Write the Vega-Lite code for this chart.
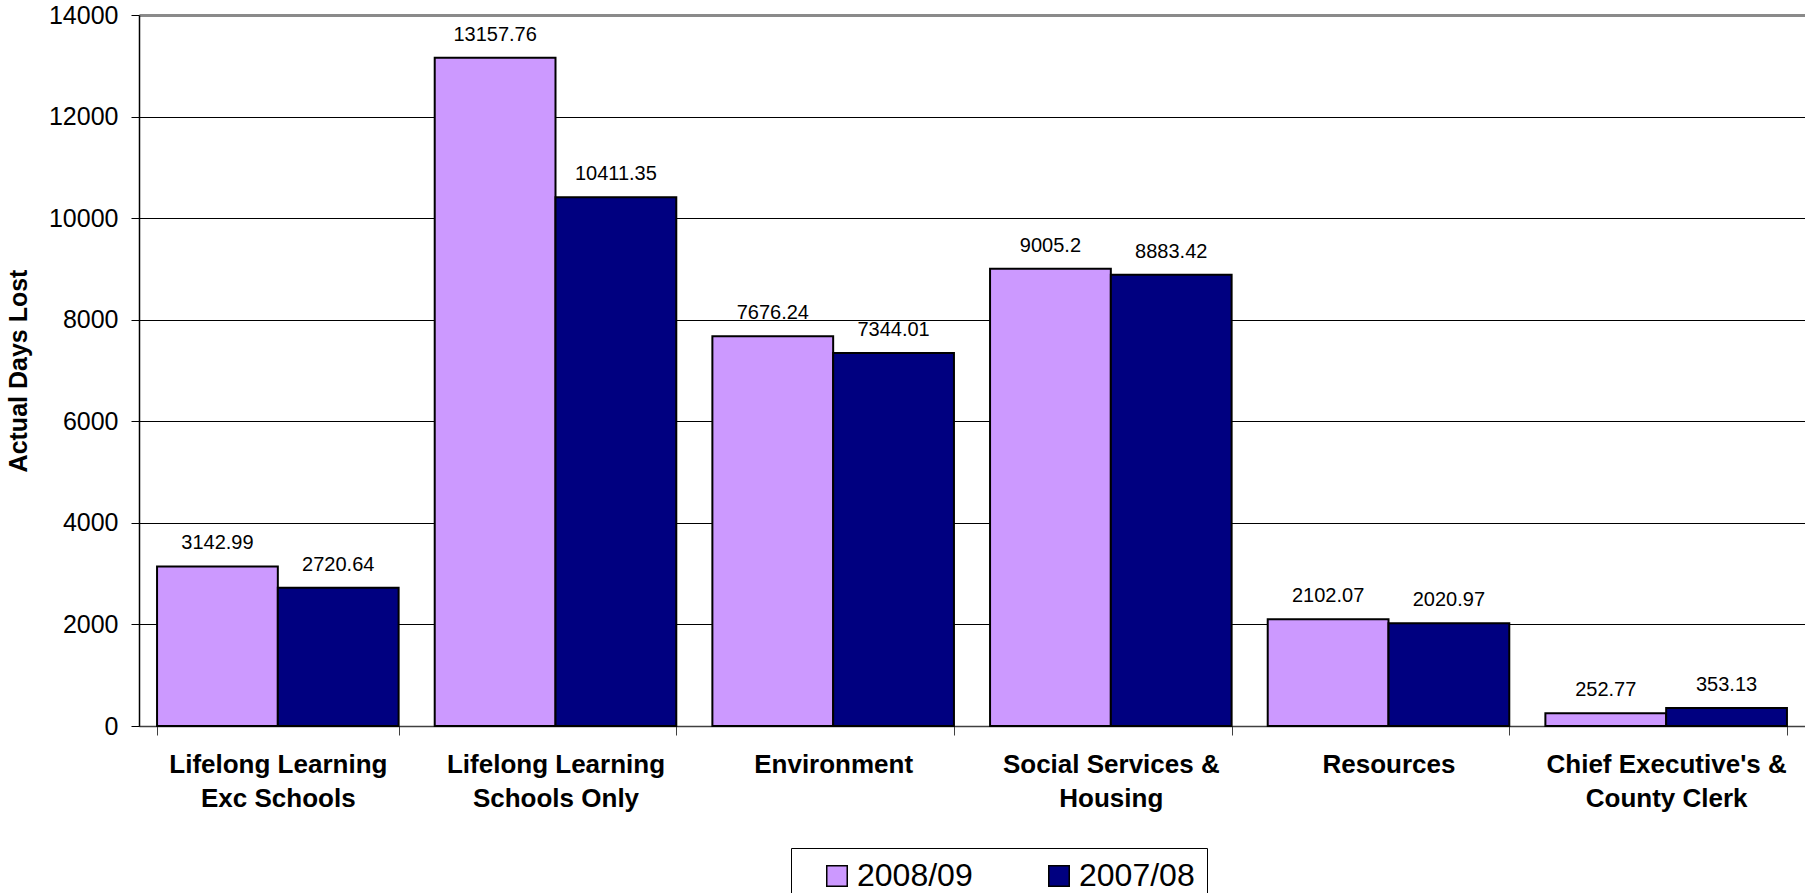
{
  "$schema": "https://vega.github.io/schema/vega-lite/v6.json",
  "width": 1666,
  "height": 711,
  "autosize": {"type": "none"},
  "padding": {"left": 139, "top": 15, "right": 0, "bottom": 167},
  "background": "white",
  "config": {"font": "Liberation Sans", "view": {"stroke": null}},
  "data": {
    "values": [
      {"dept": "Lifelong Learning|Exc Schools", "year": "2008/09", "days": 3142.99},
      {"dept": "Lifelong Learning|Exc Schools", "year": "2007/08", "days": 2720.64},
      {"dept": "Lifelong Learning|Schools Only", "year": "2008/09", "days": 13157.76},
      {"dept": "Lifelong Learning|Schools Only", "year": "2007/08", "days": 10411.35},
      {"dept": "Environment", "year": "2008/09", "days": 7676.24},
      {"dept": "Environment", "year": "2007/08", "days": 7344.01},
      {"dept": "Social Services &|Housing", "year": "2008/09", "days": 9005.2},
      {"dept": "Social Services &|Housing", "year": "2007/08", "days": 8883.42},
      {"dept": "Resources", "year": "2008/09", "days": 2102.07},
      {"dept": "Resources", "year": "2007/08", "days": 2020.97},
      {"dept": "Chief Executive's &|County Clerk", "year": "2008/09", "days": 252.77},
      {"dept": "Chief Executive's &|County Clerk", "year": "2007/08", "days": 353.13}
    ]
  },
  "encoding": {
    "x": {
      "field": "dept",
      "type": "nominal",
      "sort": null,
      "scale": {"paddingInner": 0.13, "paddingOuter": 0.065},
      "axis": {
        "title": null,
        "labelAngle": 0,
        "labelExpr": "split(datum.label, '|')",
        "labelFontSize": 26,
        "labelFontWeight": "bold",
        "labelColor": "black",
        "labelLineHeight": 34,
        "labelPadding": 16,
        "labelBaseline": "top",
        "labelLimit": 400,
        "tickBand": "extent",
        "tickSize": 9,
        "tickColor": "#404040",
        "domainColor": "#404040",
        "domainWidth": 1.5,
        "grid": false
      }
    },
    "xOffset": {
      "field": "year",
      "type": "nominal",
      "sort": ["2008/09", "2007/08"],
      "scale": {"paddingInner": 0, "paddingOuter": 0}
    },
    "y": {
      "field": "days",
      "type": "quantitative",
      "scale": {"domain": [0, 14000], "nice": false},
      "axis": {
        "title": "Actual Days Lost",
        "titleFontSize": 25,
        "titleFontWeight": "bold",
        "titleColor": "black",
        "titlePadding": 17,
        "format": "d",
        "values": [0, 2000, 4000, 6000, 8000, 10000, 12000, 14000],
        "labelFontSize": 25,
        "labelColor": "black",
        "labelPadding": 13,
        "tickSize": 8,
        "tickColor": "black",
        "domainColor": "black",
        "domainWidth": 1.5,
        "grid": true,
        "gridColor": {"condition": {"test": "datum.value === 14000", "value": "#8a8a8a"}, "value": "black"},
        "gridWidth": {"condition": {"test": "datum.value === 14000", "value": 3}, "value": 1},
        "gridOpacity": 1
      }
    }
  },
  "layer": [
    {
      "mark": {"type": "bar", "stroke": "black", "strokeWidth": 2},
      "encoding": {
        "color": {
          "field": "year",
          "type": "nominal",
          "scale": {"domain": ["2008/09", "2007/08"], "range": ["#CC99FF", "#000080"]},
          "legend": {
            "title": "\u00a0",
            "titleOrient": "left",
            "titleFontSize": 20,
            "titlePadding": 18,
            "orient": "none",
            "direction": "horizontal",
            "legendX": 652,
            "legendY": 833,
            "strokeColor": "black",
            "padding": 12,
            "fillColor": "white",
            "labelExpr": "datum.label === '2007/08' ? datum.label + '\u00a0\u00a0\u00a0\u00a0' : datum.label",
            "labelFontSize": 32,
            "labelColor": "black",
            "labelOffset": 4,
            "symbolType": "square",
            "symbolSize": 420,
            "symbolStrokeColor": "black",
            "symbolStrokeWidth": 1.5,
            "symbolOpacity": 1,
            "columnPadding": 70
          }
        }
      }
    },
    {
      "mark": {"type": "text", "baseline": "alphabetic", "dy": -17, "fontSize": 20, "color": "black"},
      "encoding": {
        "text": {"field": "days", "type": "quantitative", "format": "~f"}
      }
    }
  ]
}
